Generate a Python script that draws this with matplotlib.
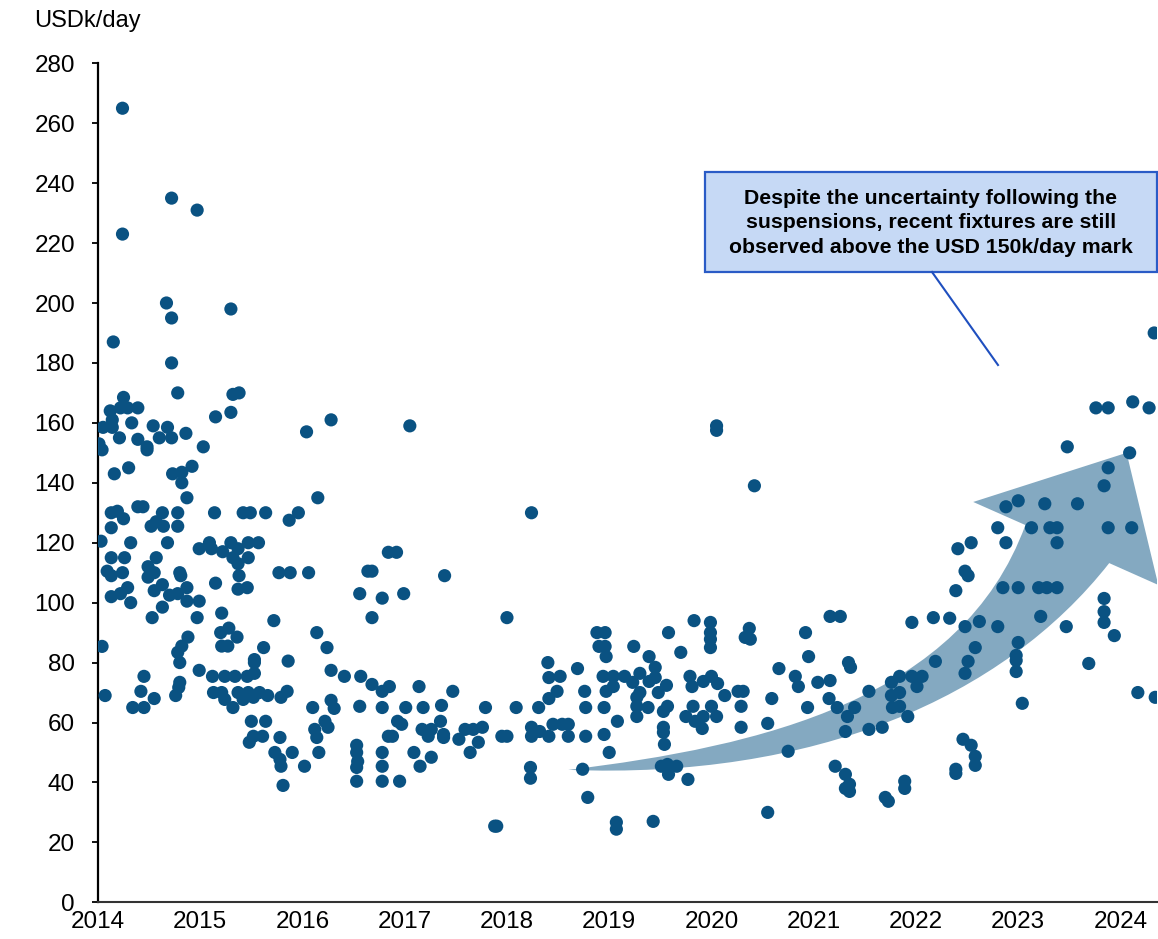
import matplotlib
matplotlib.use("Agg")
import matplotlib.pyplot as plt
from matplotlib.lines import Line2D
from matplotlib.patches import PathPatch, Rectangle
from matplotlib.path import Path

plt.rcParams['font.family'] = ['Liberation Sans', 'DejaVu Sans']

# Fixture dates (decimal years) and rates (USDk/day), one pair of lists per year
dates_2014 = [2014.24, 2014.72, 2014.97, 2014.24, 2014.67, 2014.72, 2014.15, 2014.72, 2014.78, 2014.25,
              2014.12, 2014.22, 2014.29, 2014.39, 2014.14, 2014.33, 2014.05, 2014.14, 2014.21, 2014.01,
              2014.04, 2014.39, 2014.48, 2014.48, 2014.54, 2014.60, 2014.68, 2014.72, 2014.86, 2014.16,
              2014.30, 2014.73, 2014.82, 2014.92, 2014.82, 2014.87, 2014.04, 2014.07, 2014.13, 2014.13,
              2014.32, 2014.03, 2014.13, 2014.26, 2014.09, 2014.13, 2014.24, 2014.29, 2014.13, 2014.22,
              2014.32, 2014.44, 2014.39, 2014.19, 2014.25, 2014.63, 2014.78, 2014.52, 2014.64, 2014.78,
              2014.57, 2014.68, 2014.49, 2014.57, 2014.55, 2014.49, 2014.63, 2014.55, 2014.70, 2014.80,
              2014.81, 2014.87, 2014.78, 2014.87, 2014.63, 2014.53, 2014.99, 2014.97, 2014.99, 2014.88,
              2014.82, 2014.78, 2014.80, 2014.99, 2014.45, 2014.42, 2014.55, 2014.34, 2014.45, 2014.80,
              2014.79, 2014.76]
rates_2014 = [265, 235, 231, 223, 200, 195, 187, 180, 170, 168.5,
              164, 165, 165, 165, 161, 160, 158.5, 158.5, 155, 153,
              151, 154.5, 152, 151, 159, 155, 158.5, 155, 156.5, 143,
              145, 143, 143.5, 145.5, 140, 135, 85.4, 69, 130, 125,
              120, 120.5, 115, 115, 110.5, 109, 110, 105, 102, 103,
              100, 132, 132, 130.5, 128, 130, 130, 125.5, 125.5, 125.5,
              127, 120, 112, 115, 110, 108.5, 106, 104, 102.5, 110,
              109, 105, 103, 100.5, 98.5, 95, 100.5, 95, 118, 88.5,
              85.5, 83.4, 80, 77.4, 75.4, 70.4, 68, 65, 65, 73.4,
              71.7, 69]

dates_2015 = [2015.30, 2015.32, 2015.38, 2015.03, 2015.15, 2015.30, 2015.09, 2015.11, 2015.22, 2015.30,
              2015.37, 2015.47, 2015.57, 2015.47, 2015.32, 2015.37, 2015.38, 2015.37, 2015.46, 2015.15,
              2015.14, 2015.42, 2015.49, 2015.64, 2015.87, 2015.96, 2015.77, 2015.88, 2015.21, 2015.20,
              2015.28, 2015.36, 2015.21, 2015.27, 2015.62, 2015.72, 2015.53, 2015.53, 2015.86, 2015.12,
              2015.24, 2015.34, 2015.46, 2015.53, 2015.13, 2015.21, 2015.24, 2015.32, 2015.37, 2015.42,
              2015.47, 2015.52, 2015.58, 2015.66, 2015.79, 2015.85, 2015.50, 2015.64, 2015.52, 2015.48,
              2015.61, 2015.78, 2015.73, 2015.90, 2015.78, 2015.79, 2015.81]
rates_2015 = [198, 169.5, 170, 152, 162, 163.5, 120, 118, 117, 120,
              118, 120, 120, 115, 115, 113, 109, 104.5, 105, 106.5,
              130, 130, 130, 130, 127.5, 130, 110, 110, 96.5, 90,
              91.5, 88.5, 85.5, 85.5, 85, 94, 81, 80, 80.5, 75.4,
              75.4, 75.4, 75.4, 76.4, 70, 70, 67.7, 65, 70, 67.7,
              70, 68.4, 70, 69, 68.4, 70.4, 60.4, 60.4, 55.4, 53.4,
              55.4, 55, 50, 50, 47.7, 45.4, 39]

dates_2016 = [2016.04, 2016.28, 2016.15, 2016.06, 2016.56, 2016.14, 2016.24, 2016.28, 2016.41, 2016.57,
              2016.56, 2016.02, 2016.10, 2016.28, 2016.31, 2016.22, 2016.25, 2016.12, 2016.14, 2016.16,
              2016.53, 2016.53, 2016.54, 2016.53, 2016.53, 2016.84, 2016.92, 2016.64, 2016.68, 2016.78,
              2016.99, 2016.68, 2016.68, 2016.78, 2016.85, 2016.78, 2016.93, 2016.97, 2016.84, 2016.88,
              2016.78, 2016.78, 2016.78, 2016.95]
rates_2016 = [157, 161, 135, 110, 103, 90, 85, 77.4, 75.4, 75.4,
              65.4, 45.4, 65, 67.4, 64.7, 60.4, 58.4, 57.7, 55, 50,
              52.4, 50, 47, 45, 40.4, 116.8, 116.8, 110.5, 110.5, 101.5,
              103, 95, 72.7, 70.4, 72, 65, 60.4, 59.4, 55.4, 55.4,
              50, 45.4, 40.4, 40.4]

dates_2017 = [2017.05, 2017.39, 2017.14, 2017.47, 2017.01, 2017.18, 2017.36, 2017.79, 2017.35, 2017.17,
              2017.26, 2017.23, 2017.38, 2017.38, 2017.53, 2017.59, 2017.67, 2017.76, 2017.72, 2017.64,
              2017.95, 2017.09, 2017.15, 2017.26, 2017.88, 2017.90]
rates_2017 = [159, 109, 72, 70.4, 65, 65, 65.7, 65, 60.4, 57.7,
              57.7, 55.4, 56, 55, 54.4, 57.7, 57.7, 58.4, 53.4, 50,
              55.4, 50, 45.4, 48.4, 25.4, 25.4]

dates_2018 = [2018.24, 2018.00, 2018.09, 2018.31, 2018.00, 2018.24, 2018.24, 2018.32, 2018.41, 2018.45,
              2018.54, 2018.60, 2018.60, 2018.77, 2018.95, 2018.23, 2018.23, 2018.74, 2018.79, 2018.40,
              2018.41, 2018.52, 2018.69, 2018.41, 2018.49, 2018.76, 2018.77, 2018.95, 2018.88, 2018.96,
              2018.90, 2018.96, 2018.97, 2018.94, 2018.97]
rates_2018 = [130, 95, 65, 65, 55.4, 58.4, 55.4, 57, 55.4, 59.4,
              59.4, 59.4, 55.4, 55.4, 56, 45, 41.4, 44.4, 35, 80,
              75, 75.4, 78, 68, 70.4, 70.4, 65, 65, 90, 90,
              85.4, 85.4, 82, 75.4, 70.4]

dates_2019 = [2019.08, 2019.00, 2019.07, 2019.07, 2019.04, 2019.04, 2019.15, 2019.83, 2019.99, 2019.99,
              2019.99, 2019.99, 2019.58, 2019.24, 2019.39, 2019.70, 2019.45, 2019.30, 2019.23, 2019.39,
              2019.45, 2019.56, 2019.48, 2019.30, 2019.27, 2019.27, 2019.38, 2019.27, 2019.57, 2019.53,
              2019.53, 2019.53, 2019.54, 2019.79, 2019.81, 2019.92, 2019.82, 2019.75, 2019.84, 2019.92,
              2019.91, 2019.57, 2019.58, 2019.66, 2019.51, 2019.77, 2019.43]
rates_2019 = [60.4, 50, 26.7, 24.4, 72, 75.4, 75.4, 94, 93.4, 90,
              87.8, 85, 90, 85.4, 82, 83.4, 78.4, 76.4, 73.4, 73.7,
              75, 72.4, 70, 70, 68.4, 65.4, 65, 62, 65.4, 63.7,
              58.4, 56.7, 52.7, 75.4, 72, 73.7, 65.4, 62, 60.4, 62,
              58, 46, 42.7, 45.4, 45.4, 41, 27]

dates_2020 = [2020.05, 2020.05, 2020.42, 2020.00, 2020.06, 2020.13, 2020.26, 2020.31, 2020.00, 2020.05,
              2020.29, 2020.29, 2020.37, 2020.38, 2020.33, 2020.59, 2020.55, 2020.66, 2020.82, 2020.85,
              2020.94, 2020.75, 2020.92, 2020.95, 2020.55]
rates_2020 = [157.5, 159, 139, 75.4, 73, 69, 70.4, 70.4, 65.4, 62,
              65.4, 58.4, 91.4, 87.8, 88.4, 68, 59.7, 78, 75.4, 72,
              65, 50.4, 90, 82, 30]

dates_2021 = [2021.04, 2021.16, 2021.15, 2021.23, 2021.33, 2021.31, 2021.40, 2021.54, 2021.54, 2021.67,
              2021.16, 2021.26, 2021.34, 2021.36, 2021.76, 2021.76, 2021.77, 2021.21, 2021.31, 2021.35,
              2021.31, 2021.35, 2021.70, 2021.73, 2021.84, 2021.84, 2021.92, 2021.84, 2021.96, 2021.96,
              2021.89, 2021.89]
rates_2021 = [73.4, 74, 68, 65, 62, 57, 65, 70.4, 57.7, 58.4,
              95.4, 95.4, 80, 78.4, 73.4, 69, 65, 45.4, 42.7, 39.4,
              38, 37, 35, 33.7, 70, 65.4, 62, 75.4, 75.4, 93.4,
              40.4, 38]

dates_2022 = [2022.06, 2022.01, 2022.17, 2022.33, 2022.19, 2022.48, 2022.62, 2022.80, 2022.58, 2022.51,
              2022.48, 2022.39, 2022.48, 2022.51, 2022.41, 2022.54, 2022.80, 2022.88, 2022.88, 2022.85,
              2022.98, 2022.98, 2022.98, 2022.46, 2022.54, 2022.58, 2022.58, 2022.39, 2022.39]
rates_2022 = [75.4, 72, 95, 94.8, 80.4, 92, 93.7, 92, 85, 80.4,
              76.4, 104, 110.5, 109, 118, 120, 125, 120, 132, 105,
              82.4, 80.7, 77, 54.4, 52.4, 48.7, 45.7, 44.4, 43]

dates_2023 = [2023.00, 2023.00, 2023.00, 2023.04, 2023.13, 2023.26, 2023.31, 2023.38, 2023.38, 2023.20,
              2023.28, 2023.38, 2023.22, 2023.47, 2023.58, 2023.84, 2023.88, 2023.88, 2023.84, 2023.84,
              2023.84, 2023.94, 2023.69, 2023.76, 2023.88, 2023.48]
rates_2023 = [134, 105, 86.7, 66.4, 125, 133, 125, 125, 120, 105,
              105, 105, 95.4, 92, 133, 139, 145, 125, 101.4, 97,
              93.4, 89, 79.7, 165, 165, 152]

dates_2024 = [2024.11, 2024.17, 2024.34, 2024.33, 2024.12, 2024.28, 2024.09]
rates_2024 = [125, 70, 68.4, 190, 167, 165, 150]

year_ticks = list(range(2014, 2025))
tick_labels = [str(y) for y in year_ticks]
y_ticks = list(range(0, 281, 20))

note = ("Despite the uncertainty following the\n"
        "suspensions, recent fixtures are still\n"
        "observed above the USD 150k/day mark")

dates = (dates_2014 + dates_2015 + dates_2016 + dates_2017 + dates_2018 + dates_2019
         + dates_2020 + dates_2021 + dates_2022 + dates_2023 + dates_2024)
rates = (rates_2014 + rates_2015 + rates_2016 + rates_2017 + rates_2018 + rates_2019
         + rates_2020 + rates_2021 + rates_2022 + rates_2023 + rates_2024)

fig = plt.figure(figsize=(11.58, 9.39), dpi=100)
ax = fig.add_axes([0.0846, 0.0391, 0.9145, 0.8935])

# big curved "uptrend" arrow behind the dots
arrow_verts = [
    (2018.60, 44.2),
    (2020.50, 52.0), (2022.45, 68.0), (2023.07, 125.9),
    (2022.56, 133.6),
    (2024.06, 150.0),
    (2024.37, 105.9),
    (2023.89, 113.2),
    (2022.85, 68.0), (2021.00, 41.0), (2018.60, 44.2),
    (2018.60, 44.2),
]
arrow_codes = [Path.MOVETO,
               Path.CURVE4, Path.CURVE4, Path.CURVE4,
               Path.LINETO, Path.LINETO, Path.LINETO, Path.LINETO,
               Path.CURVE4, Path.CURVE4, Path.CURVE4,
               Path.CLOSEPOLY]
ax.add_patch(PathPatch(Path(arrow_verts, arrow_codes), facecolor='#84A9C1',
                       edgecolor='none', zorder=1))

ax.scatter(dates, rates, s=90, color='#0A5282', edgecolors='none', zorder=3)

ax.set_xlim(2014.0, 2024.357)
ax.set_ylim(0, 280)
ax.set_xticks(year_ticks)
ax.set_xticklabels(tick_labels)
ax.set_yticks(y_ticks)

for side in ('top', 'right'):
    ax.spines[side].set_visible(False)
ax.spines['left'].set_linewidth(1.6)
ax.spines['left'].set_color('black')
ax.spines['bottom'].set_linewidth(1.5)
ax.spines['bottom'].set_color('#333333')

ax.tick_params(axis='y', direction='out', length=4.5, width=1.3, pad=12,
               labelsize=17.5, color='black')
ax.tick_params(axis='x', length=0, pad=6, labelsize=17.5)

fig.text(34 / 1158, 1 - 27 / 939, "USDk/day", fontsize=17, ha='left', va='baseline')

# callout box and its pointer line
fig.add_artist(Rectangle((705 / 1158, 1 - 272 / 939), 452 / 1158, 100 / 939,
                         transform=fig.transFigure, facecolor='#C6D9F5',
                         edgecolor='#2A5BC6', linewidth=1.6))
fig.add_artist(Line2D([932 / 1158, 998 / 1158], [1 - 272 / 939, 1 - 365 / 939],
                      transform=fig.transFigure, color='#1F4FBF', linewidth=1.5))
fig.text(931 / 1158, 1 - 223 / 939, note, ha='center', va='center',
         fontsize=15.3, fontweight='bold', linespacing=1.35)

fig.savefig("out.png", dpi=100)
